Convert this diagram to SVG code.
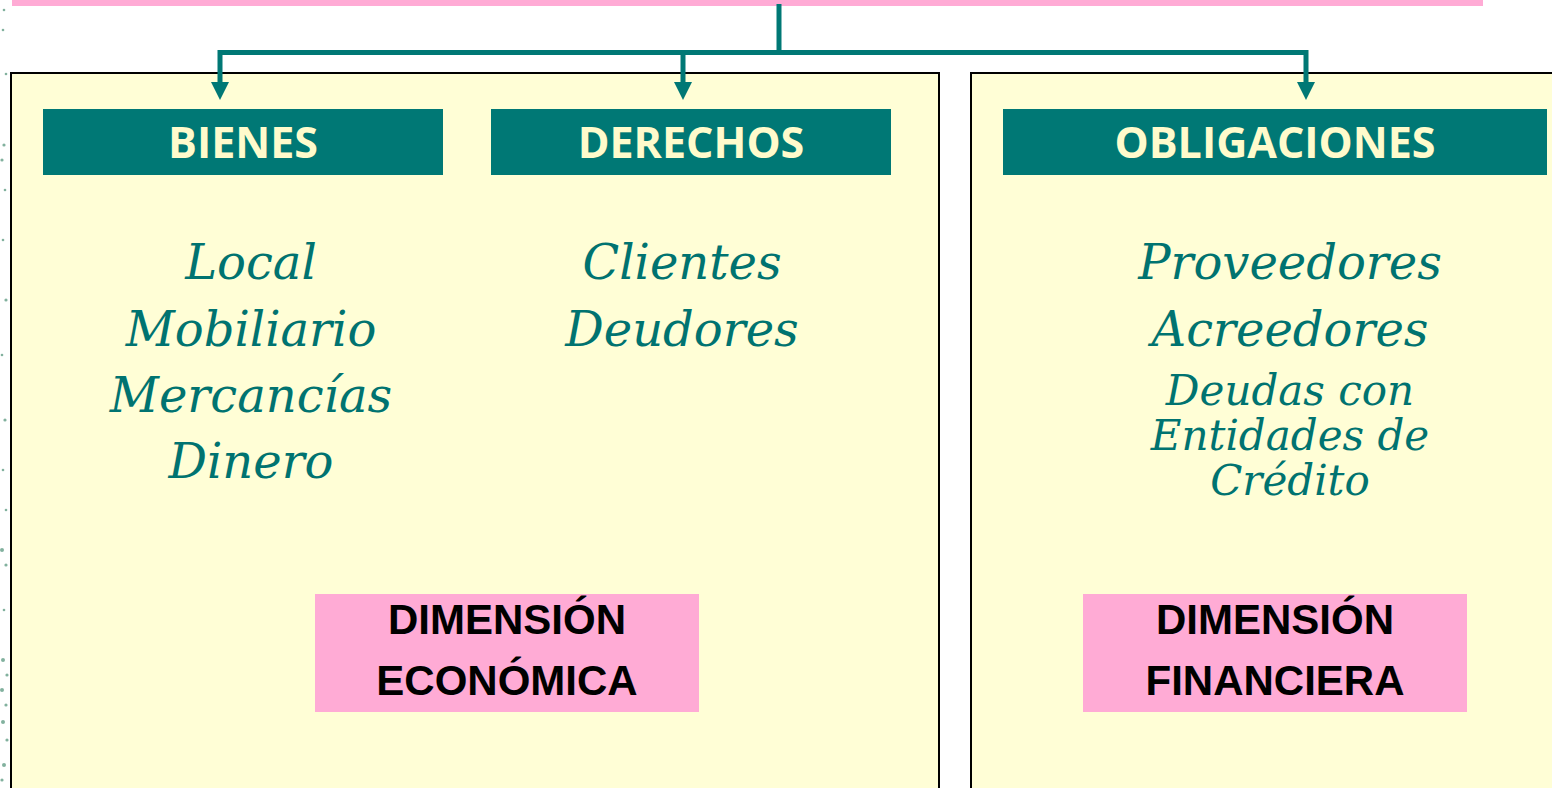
<svg xmlns="http://www.w3.org/2000/svg" width="1552" height="788" viewBox="0 0 1552 788">
<defs>
<style>
.panel{fill:#FFFED6;stroke:#000;stroke-width:2}
.head{fill:#007875}
.headtxt{font-family:"Open Sans","DejaVu Sans",sans-serif;font-weight:bold;font-size:43px;fill:#FFFBCC;text-anchor:middle}
.item{font-family:"DejaVu Serif",serif;font-style:italic;font-size:48px;fill:#007370;text-anchor:middle}
.item2{font-family:"DejaVu Serif",serif;font-style:italic;font-size:42px;fill:#007370;text-anchor:middle}
.dim{fill:#FFABD5}
.dimtxt{font-family:"Liberation Sans",Arial,sans-serif;font-weight:bold;font-size:42px;fill:#000;text-anchor:middle}
.conn{fill:none;stroke:#007875;stroke-width:5}
.dot{fill:#2E7D5E;opacity:0.6}
</style>
</defs>
<rect width="1552" height="788" fill="#FFFFFF"/>
<g id="texture">
<circle class="dot" cx="4" cy="10" r="1.3"/><circle class="dot" cx="3" cy="30" r="1.3"/><circle class="dot" cx="6" cy="74" r="1.3"/>
<circle class="dot" cx="4" cy="145" r="1.6"/><circle class="dot" cx="2" cy="160" r="1.6"/><circle class="dot" cx="5" cy="190" r="1.3"/>
<circle class="dot" cx="3" cy="240" r="1.3"/><circle class="dot" cx="6" cy="300" r="1.6"/><circle class="dot" cx="2" cy="355" r="1.3"/>
<circle class="dot" cx="5" cy="420" r="1.6"/><circle class="dot" cx="3" cy="470" r="1.3"/><circle class="dot" cx="6" cy="510" r="1.3"/>
<circle class="dot" cx="2" cy="550" r="2"/><circle class="dot" cx="6" cy="565" r="1.6"/><circle class="dot" cx="4" cy="610" r="1.3"/>
<circle class="dot" cx="3" cy="660" r="2"/><circle class="dot" cx="7" cy="675" r="1.6"/><circle class="dot" cx="2" cy="690" r="2"/>
<circle class="dot" cx="6" cy="705" r="1.6"/><circle class="dot" cx="3" cy="722" r="2"/><circle class="dot" cx="7" cy="740" r="1.6"/>
<circle class="dot" cx="4" cy="765" r="2"/><circle class="dot" cx="2" cy="780" r="1.6"/>
</g>
<rect id="topbar" x="12" y="0" width="1471" height="6" fill="#FFABD5"/>
<g id="panel-left"><rect class="panel" x="11" y="73" width="928" height="730"/></g>
<g id="panel-right"><rect class="panel" x="971" y="73" width="600" height="730"/></g>
<g id="connectors">
<line class="conn" x1="779" y1="4" x2="779" y2="52.5"/>
<polyline class="conn" points="220,82 220,52.5 1306,52.5 1306,82"/>
<line class="conn" x1="683" y1="52.5" x2="683" y2="82"/>
<path d="M211,82 L229,82 L220,100 Z" fill="#007875"/>
<path d="M674,82 L692,82 L683,100 Z" fill="#007875"/>
<path d="M1297,82 L1315,82 L1306,100 Z" fill="#007875"/>
</g>
<g id="bienes">
<rect class="head" x="43" y="109" width="400" height="66"/>
<text class="headtxt" x="243" y="158">BIENES</text>
<text class="item" x="251" y="279">Local</text>
<text class="item" x="251" y="346">Mobiliario</text>
<text class="item" x="251" y="412">Mercancías</text>
<text class="item" x="251" y="478">Dinero</text>
</g>
<g id="derechos">
<rect class="head" x="491" y="109" width="400" height="66"/>
<text class="headtxt" x="691" y="158">DERECHOS</text>
<text class="item" x="682" y="279">Clientes</text>
<text class="item" x="682" y="346">Deudores</text>
</g>
<g id="obligaciones">
<rect class="head" x="1003" y="109" width="544" height="66"/>
<text class="headtxt" x="1275" y="158">OBLIGACIONES</text>
<text class="item" x="1290" y="279">Proveedores</text>
<text class="item" x="1290" y="346">Acreedores</text>
<text class="item2" x="1290" y="405">Deudas con</text>
<text class="item2" x="1290" y="450">Entidades de</text>
<text class="item2" x="1290" y="495">Crédito</text>
</g>
<g id="dim-economica">
<rect class="dim" x="315" y="594" width="384" height="118"/>
<text class="dimtxt" x="507" y="634">DIMENSIÓN</text>
<text class="dimtxt" x="507" y="695">ECONÓMICA</text>
</g>
<g id="dim-financiera">
<rect class="dim" x="1083" y="594" width="384" height="118"/>
<text class="dimtxt" x="1275" y="634">DIMENSIÓN</text>
<text class="dimtxt" x="1275" y="695">FINANCIERA</text>
</g>
</svg>
